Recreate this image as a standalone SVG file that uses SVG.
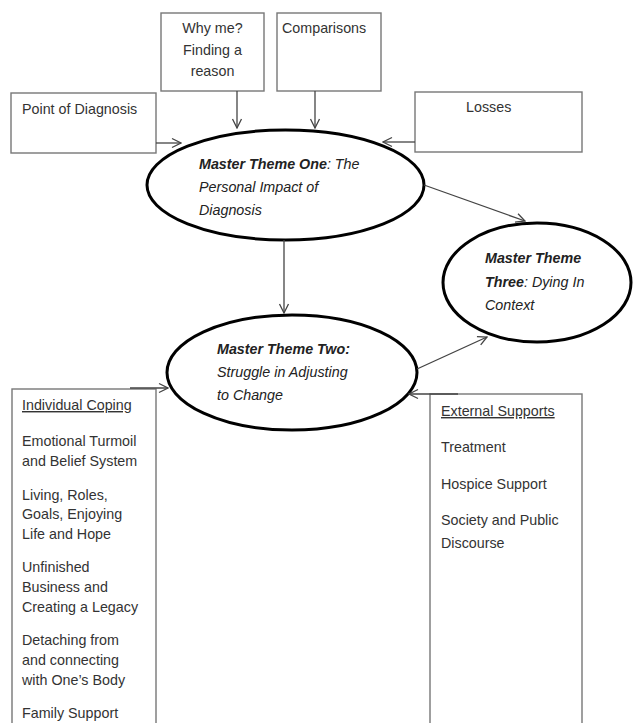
<svg xmlns="http://www.w3.org/2000/svg" width="633" height="723" viewBox="0 0 633 723">
<style>
.box{fill:#fff;stroke:#777;stroke-width:1.4}
.ell{fill:#fff;stroke:#000;stroke-width:3}
.t{font-family:"Liberation Sans",Arial,sans-serif;font-size:14.3px;fill:#333}
.et{font-family:"Liberation Sans",Arial,sans-serif;font-size:14.3px;fill:#222;font-style:italic}
.b{font-weight:bold}
.u{text-decoration:underline}
.c{stroke:#444;stroke-width:1.3;fill:none}
</style>
<defs>
<marker id="ah" viewBox="0 0 12 12" refX="11" refY="6" markerWidth="12" markerHeight="12" markerUnits="userSpaceOnUse" orient="auto">
<polyline points="2,1.5 11,6 2,10.5" fill="none" stroke="#444" stroke-width="1.3"/>
</marker>
</defs>
<rect width="633" height="723" fill="#fff"/>
<g id="why-me">
<rect class="box" x="161" y="13" width="103" height="78"/>
<text class="t" x="212.5" y="33" text-anchor="middle">Why me?</text>
<text class="t" x="212.5" y="55" text-anchor="middle">Finding a</text>
<text class="t" x="212.5" y="76" text-anchor="middle">reason</text>
</g>
<g id="comparisons">
<rect class="box" x="277" y="13" width="104" height="78"/>
<text class="t" x="282" y="33">Comparisons</text>
</g>
<g id="point-of-diagnosis">
<rect class="box" x="11" y="93" width="145" height="60"/>
<text class="t" x="22" y="114">Point of Diagnosis</text>
</g>
<g id="losses">
<rect class="box" x="415" y="92" width="167" height="60"/>
<text class="t" x="466" y="112">Losses</text>
</g>
<g id="theme-one">
<ellipse class="ell" cx="285.5" cy="185" rx="138.5" ry="55"/>
<text class="et" x="199" y="169"><tspan class="b">Master Theme One</tspan>: The</text>
<text class="et" x="199" y="192">Personal Impact of</text>
<text class="et" x="199" y="215">Diagnosis</text>
</g>
<g id="theme-three">
<ellipse class="ell" cx="537" cy="282.5" rx="94" ry="59.5"/>
<text class="et" x="485" y="263"><tspan class="b">Master Theme</tspan></text>
<text class="et" x="485" y="287"><tspan class="b">Three</tspan>: Dying In</text>
<text class="et" x="485" y="310">Context</text>
</g>
<g id="theme-two">
<ellipse class="ell" cx="292" cy="372.5" rx="125" ry="57.5"/>
<text class="et b" x="217" y="354">Master Theme Two:</text>
<text class="et" x="217" y="377">Struggle in Adjusting</text>
<text class="et" x="217" y="400">to Change</text>
</g>
<g id="individual-coping">
<rect class="box" x="12" y="389" width="144" height="345"/>
<text class="t u" x="22" y="410">Individual Coping</text>
<text class="t" x="22" y="446">Emotional Turmoil</text>
<text class="t" x="22" y="466">and Belief System</text>
<text class="t" x="22" y="500">Living, Roles,</text>
<text class="t" x="22" y="519">Goals, Enjoying</text>
<text class="t" x="22" y="539">Life and Hope</text>
<text class="t" x="22" y="572">Unfinished</text>
<text class="t" x="22" y="592">Business and</text>
<text class="t" x="22" y="612">Creating a Legacy</text>
<text class="t" x="22" y="645">Detaching from</text>
<text class="t" x="22" y="665">and connecting</text>
<text class="t" x="22" y="685">with One’s Body</text>
<text class="t" x="22" y="718">Family Support</text>
</g>
<g id="external-supports">
<rect class="box" x="430" y="394" width="152" height="340"/>
<text class="t u" x="441" y="416">External Supports</text>
<text class="t" x="441" y="452">Treatment</text>
<text class="t" x="441" y="489">Hospice Support</text>
<text class="t" x="441" y="525">Society and Public</text>
<text class="t" x="441" y="548">Discourse</text>
</g>
<g id="connectors">
<line class="c" x1="237" y1="91" x2="237" y2="128" marker-end="url(#ah)"/>
<line class="c" x1="315" y1="91" x2="315" y2="128" marker-end="url(#ah)"/>
<line class="c" x1="156" y1="143" x2="181" y2="143" marker-end="url(#ah)"/>
<line class="c" x1="415" y1="142" x2="383" y2="142" marker-end="url(#ah)"/>
<line class="c" x1="284" y1="240" x2="284" y2="313" marker-end="url(#ah)"/>
<line class="c" x1="424" y1="185" x2="525" y2="221" marker-end="url(#ah)"/>
<line class="c" x1="417" y1="369" x2="487" y2="337" marker-end="url(#ah)"/>
<line class="c" x1="130" y1="388" x2="168" y2="388" marker-end="url(#ah)"/>
<line class="c" x1="458" y1="394" x2="409" y2="394" marker-end="url(#ah)"/>
</g>
</svg>
